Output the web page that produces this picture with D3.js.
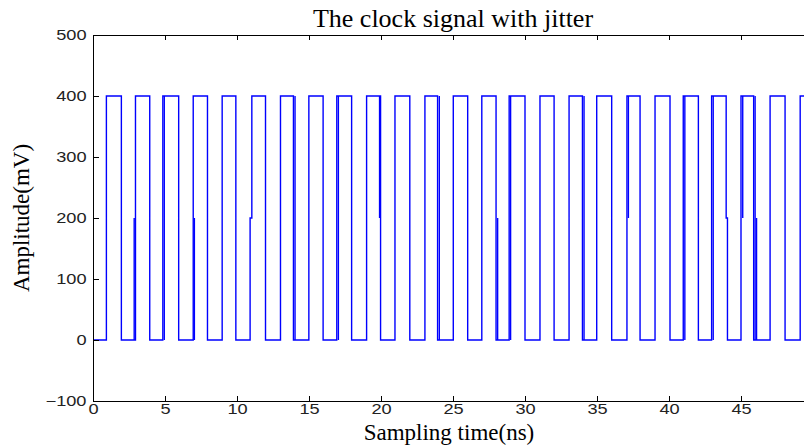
<!DOCTYPE html>
<html>
<head>
<meta charset="utf-8">
<script src="https://cdn.jsdelivr.net/npm/d3@7"></script>
<style>
  body { margin: 0; background: #fff; }
  svg { display: block; }
</style>
</head>
<body>
<div id="chart"></div>
<script>
// clock edges (ns), alternating rise / fall, starting low
const edgeTimes = [0.93, 1.97, 2.95, 3.94, 4.85, 5.95, 6.96, 7.95, 8.97, 9.92,
  10.91, 11.98, 13.02, 13.92, 14.99, 15.98, 16.93, 17.96, 19.0, 19.97,
  20.97, 22.0, 23.05, 23.93, 25.02, 26.02, 27.0, 27.99, 28.9, 30.0,
  31.04, 32.02, 33.06, 33.99, 34.98, 36.02, 37.08, 37.99, 39.03, 40.07,
  40.99, 42.04, 42.96, 43.97, 45.0, 45.88, 47.02, 48.06, 49.11];
// edges whose second half (200 mV -> level) comes a little later
const splitEdge = [10, 43];
const splitTime = [11.03, 44.06];
// jitter doubling seen on some edges
const thickTimes = [2.86, 4.95, 7.04, 14.03, 17.04, 19.9, 24.05, 28.1, 29.0, 34.1, 37.18, 41.1, 43.07, 45.12, 45.98, 46.08];
const thickLow   = [0, 0, 0, 0, 0, 200, 0, 0, 0, 0, 200, 0, 0, 200, 0, 0];
const thickHigh  = [200, 400, 200, 400, 400, 400, 400, 200, 400, 400, 400, 400, 400, 400, 400, 200];
const lowLevel = 0, highLevel = 400, midLevel = 200;
const xTicks = [0, 5, 10, 15, 20, 25, 30, 35, 40, 45];
const yTicks = [-100, 0, 100, 200, 300, 400, 500];

const width = 804, height = 447;
const margin = { top: 35, right: -9, bottom: 46, left: 93 };

const x = d3.scaleLinear().domain([0, 50]).range([margin.left, width - margin.right]);
const y = d3.scaleLinear().domain([-100, 500]).range([height - margin.bottom, margin.top]);

const svg = d3.select("#chart").append("svg")
  .attr("width", width)
  .attr("height", height);

// build waveform vertices from the edge list
const pts = [[0, lowLevel]];
let level = lowLevel;
edgeTimes.forEach((t, i) => {
  const to = level === lowLevel ? highLevel : lowLevel;
  const k = splitEdge.indexOf(i);
  const t2 = k >= 0 ? splitTime[k] : t;
  pts.push([t, level], [t, midLevel], [t2, midLevel], [t2, to]);
  level = to;
});
pts.push([50, level]);

const line = d3.line().x(d => x(d[0])).y(d => y(d[1]));

svg.append("path")
  .datum(pts)
  .attr("d", line)
  .attr("fill", "none")
  .attr("stroke", "#0000ff")
  .attr("stroke-width", 1.4);

svg.selectAll(".thick")
  .data(thickTimes)
  .enter().append("line")
  .attr("x1", d => x(d)).attr("x2", d => x(d))
  .attr("y1", (d, i) => y(thickLow[i]))
  .attr("y2", (d, i) => y(thickHigh[i]))
  .attr("stroke", "#0000ff")
  .attr("stroke-width", 1.4);

// axes, ticks pointing inward
const tickFont = "Liberation Sans, Arial, sans-serif";
const xAxis = svg.append("g")
  .attr("transform", `translate(0,${y(-100)})`)
  .call(d3.axisBottom(x).tickValues(xTicks).tickSize(-5).tickSizeOuter(0).tickPadding(3));
const topAxis = svg.append("g")
  .attr("transform", `translate(0,${y(500)})`)
  .call(d3.axisTop(x).tickValues(xTicks).tickSize(-5).tickSizeOuter(0).tickFormat(""));
const yAxis = svg.append("g")
  .attr("transform", `translate(${x(0)},0)`)
  .call(d3.axisLeft(y).tickValues(yTicks).tickSize(-6).tickSizeOuter(0).tickPadding(5));

[xAxis, topAxis, yAxis].forEach(g => {
  g.selectAll("path, line").attr("stroke", "#000").attr("stroke-width", 1);
  g.selectAll("text").attr("fill", "#222").style("font-family", tickFont).style("font-size", "14px");
});
// tick labels in the reference are stretched sideways
xAxis.selectAll("text").attr("transform", "scale(1.3,1)");
yAxis.selectAll("text").attr("transform", "scale(1.3,1)");

svg.append("text")
  .attr("x", 453).attr("y", 27)
  .attr("text-anchor", "middle")
  .style("font-family", "Liberation Serif, Times New Roman, serif")
  .style("font-size", "26px")
  .text("The clock signal with jitter");

svg.append("text")
  .attr("x", 449).attr("y", 440)
  .attr("text-anchor", "middle")
  .style("font-family", "Liberation Serif, Times New Roman, serif")
  .style("font-size", "23px")
  .text("Sampling time(ns)");

svg.append("text")
  .attr("transform", `translate(29,${y(200)}) rotate(-90)`)
  .attr("text-anchor", "middle")
  .style("font-family", "Liberation Serif, Times New Roman, serif")
  .style("font-size", "23px")
  .text("Amplitude(mV)");
</script>
</body>
</html>
